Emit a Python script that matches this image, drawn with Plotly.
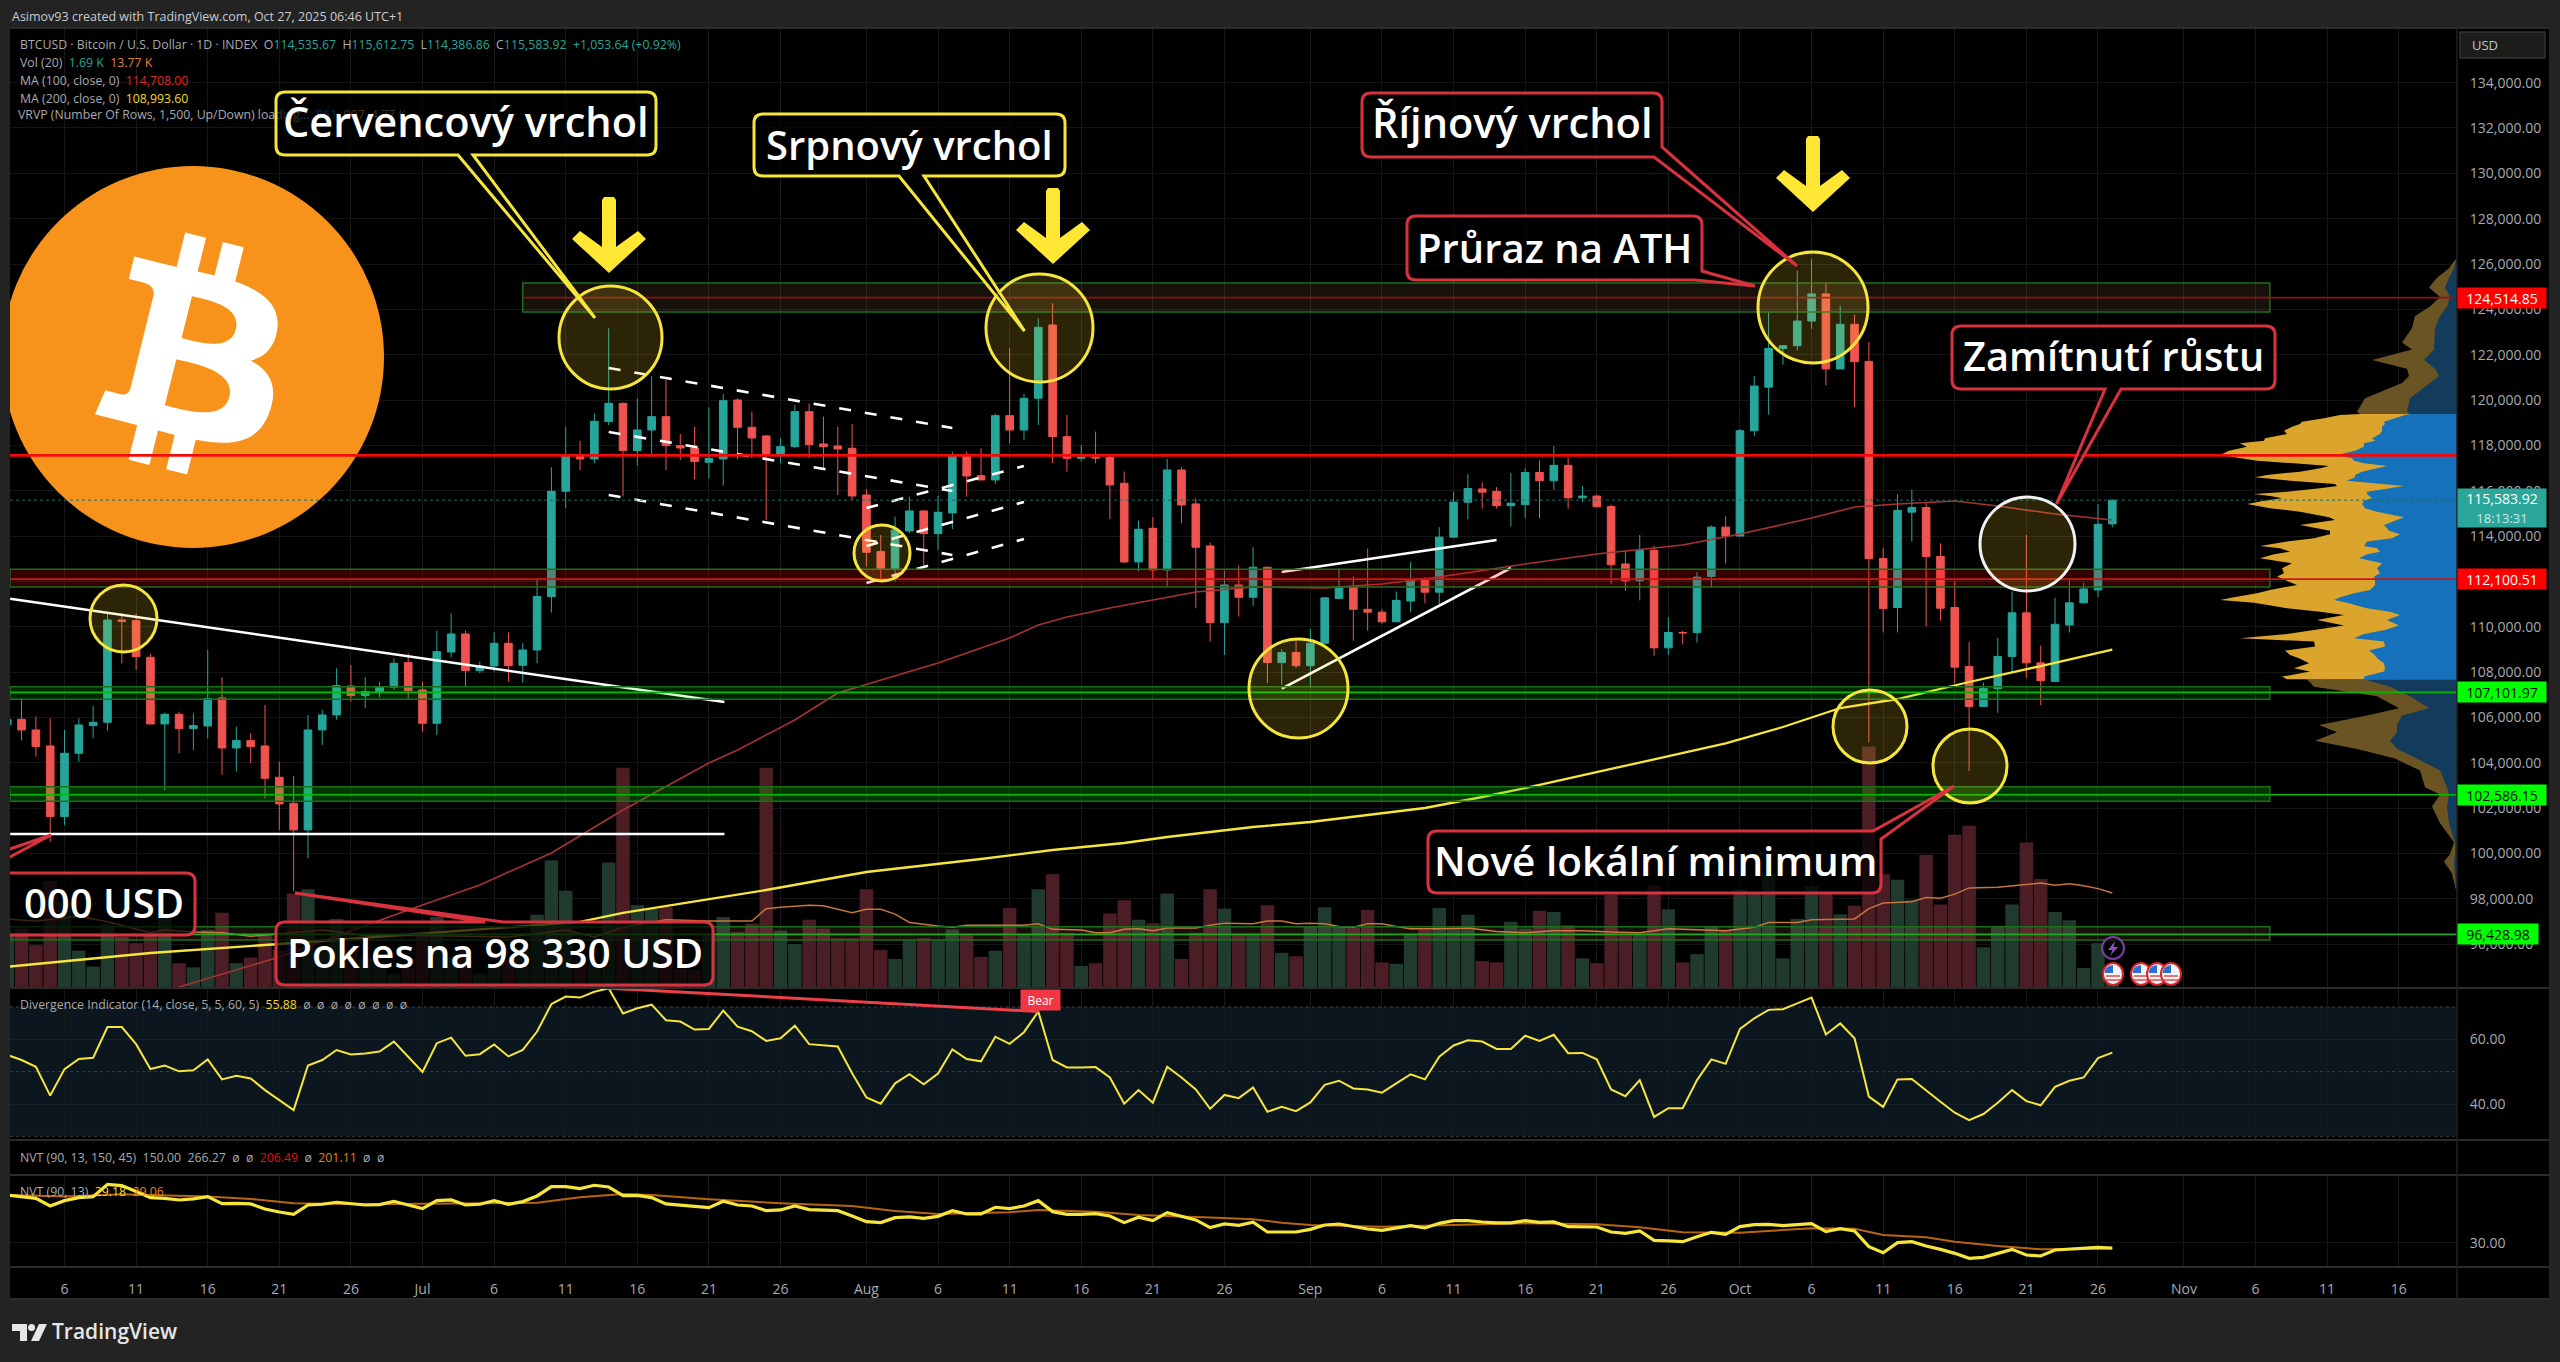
import re
import pandas as pd
import plotly.graph_objects as go

# ---------- daily candles, Jun 2 - Oct 27 2025 ----------
START = "2025-06-02"
opens = [105667,105917,105447,104741,101625,104418,105638,105785,110298,110269,108652,105712,106138,105506,105623,106858,104653,104976,104741,103359,102213,101037,105447,106109,107387,106961,107094,107329,108417,107211,
         105741,108887,109681,108064,108269,109269,108299,108975,111329,115974,117518,117400,119047,119855,117768,118679,119267,117988,117885,117254,117400,120002,118797,118415,117621,117944,119488,118062,117973,117871,
         115813,113313,112579,114225,115107,114107,115019,117533,116665,116474,119311,118679,120076,123310,118385,117430,117474,117474,116327,112858,114343,112505,116915,115416,113564,110182,111844,111300,112623,108418,108860,
         108280,109273,111242,111778,110769,110644,110218,111131,112060,111524,113952,115495,116078,115968,115338,115385,116803,116441,117118,115685,115763,115306,112770,112029,113368,109068,109745,109745,112218,114393,
         113999,118646,120568,122270,122396,123483,124680,121371,123341,121703,113006,110848,115054,115259,113100,110848,108248,106484,107272,108689,110612,108406,107587,110076,111053,111620,114535.67]
highs = [106300,106843,106035,105960,105447,105960,106505,110592,110592,110592,108799,106211,106255,106182,108975,107770,105594,105300,106550,104050,103418,106109,106329,108167,108313,107770,107578,108608,108828,107578,
         109828,110592,109828,108461,109754,109754,109269,112062,117033,118826,118194,119414,123163,119885,120076,121060,120884,118503,118826,119679,120267,120076,119488,118459,118312,119782,119855,119267,118826,118944,
         116077,114048,114858,115739,115151,115769,117724,117724,117871,119400,122281,120267,123604,124265,119340,118017,118606,117577,116841,114681,114828,117400,117033,115665,113711,112476,112696,113505,112653,109006,109351,
         109903,111300,112581,112218,113447,110769,111557,112849,112187,114393,115968,116724,116362,116157,116787,116992,117338,117969,117465,116204,115842,115385,113368,114046,113573,110423,109825,112423,114471,114865,
         118725,121056,123877,122396,125704,126208,125137,124160,123766,122553,113479,115842,116047,115495,113683,112029,109320,107539,109510,111557,114046,109162,111273,112108,111950,115416,115612.75]
lows = [105300,104976,104271,100523,101257,104050,105080,105417,108387,108093,105712,102801,104418,104565,105079,103463,103609,103977,102433,101037,98330,99787,104785,105900,106700,106402,106888,107211,106843,105373,
        105226,108651,107358,107946,108020,107578,107534,108387,110623,115224,116915,117210,118900,115739,117092,117503,116915,117356,116504,116548,116224,117386,117430,114710,117209,117871,117430,116989,115813,115592,
        112652,112137,111991,114122,112652,113387,114313,115739,116474,116300,118091,118238,118899,117209,116842,117283,117209,114740,112799,112431,112064,111770,114563,110814,109344,108757,110447,110917,107507,107434,108170,
        107303,109200,111242,109382,109823,110139,110218,110643,111037,111006,113920,114739,115212,115212,114424,114787,114787,116047,115212,115496,115259,111872,111588,111163,108722,108753,109225,109304,111714,112785,
        113999,118410,119355,121560,122191,123136,120647,121371,119702,104900,109745,109745,113762,110013,110265,107492,103636,106484,106200,108012,107744,106547,107587,109745,111006,111320,114386.86]
closes = [105918,105447,104712,101625,104418,105667,105785,110298,110239,108681,105712,106138,105506,105638,106828,104653,104976,104712,103315,102183,101037,105447,106109,107402,106961,107138,107329,108387,107182,105741,
          108902,109681,108064,108269,109269,108284,108975,111329,115974,117533,117400,119061,119855,117768,118679,119267,117988,117885,117283,117430,119973,118797,118327,117621,117944,119488,118032,117944,117841,115768,
          113284,112579,114270,115107,114107,115048,117533,116651,116474,119311,118679,120076,123207,118385,117430,117474,117445,116254,112858,114299,112505,116915,115371,113505,110182,111844,111300,112623,108418,108860,108280,
          109273,111273,111778,110769,110644,110218,111163,112060,111524,113952,115495,116094,115936,115338,115448,116803,116441,117118,115685,115763,115291,112738,112029,113368,109068,109745,109730,112187,114393,113999,
          118646,120615,122270,122396,123483,124680,121371,123341,121687,113006,110800,115133,115259,113100,110816,108217,106484,107272,108689,110612,108406,107619,110107,111053,111667,114519,115583.92]

# traded volume, thousands
volume = [7.9,8.6,6.2,15.5,12.5,5.4,3.1,9.3,7.4,6.5,7.9,10.3,3.6,3.0,8.4,10.9,3.6,4.4,7.9,5.5,13.7,14.3,5.9,10.0,5.5,4.3,3.3,2.1,3.0,7.9,
          10.3,4.5,5.5,2.1,3.3,4.0,5.9,10.6,18.5,14.1,4.0,3.5,18.2,31.9,12.0,11.5,11.7,2.8,2.6,7.9,10.3,8.1,9.3,31.9,8.3,6.4,9.9,8.6,7.2,7.2,
          14.3,5.5,4.2,7.0,7.2,7.0,8.5,7.8,4.5,5.4,11.6,7.8,14.3,16.5,8.0,3.2,3.6,10.8,12.7,9.9,9.4,13.7,4.2,8.0,14.3,11.5,7.8,7.8,12.0,5.1,4.6,
          8.9,11.7,8.9,8.7,11.3,3.7,3.5,7.8,8.4,11.6,8.6,10.6,3.9,3.7,9.6,8.6,11.2,11.0,9.1,4.3,3.6,13.5,7.9,7.9,14.9,11.4,3.7,4.9,8.9,8.4,
          14.3,13.7,16.6,4.3,10.0,14.7,13.7,10.7,11.9,35.0,16.5,15.7,12.8,19.3,12.1,22.2,23.5,5.9,8.9,12.1,21.1,15.8,11.0,9.8,2.9,6.5,1.69]

vol_ma_days = ["06-02","06-04","06-07","06-09","06-12","06-13","06-15","06-17","06-19","06-21","06-24","06-27","07-01","07-07","07-11","07-13","07-15","07-18","07-21","07-24","07-25","07-26","07-28","07-29","07-31","08-01","08-02","08-03","08-04","08-06","08-07","08-08","08-09","08-10","08-12","08-13","08-14","08-16","08-17","08-18","08-19","08-20","08-21","08-22","08-24","08-25","08-26","08-28","08-29","08-30","08-31","09-01","09-02","09-03","09-04","09-05","09-06","09-07","09-08","09-10","09-12","09-14","09-16","09-18","09-20","09-22","09-24","09-26","09-30","10-02","10-03","10-05","10-06","10-09","10-10","10-11","10-13","10-14","10-15","10-16","10-17","10-19","10-20","10-21","10-22","10-23","10-24","10-25","10-26","10-27"]
vol_ma = [10.0,9.7,10.4,9.6,8.0,8.4,8.1,8.0,7.5,7.9,8.4,7.6,7.6,7.4,8.4,7.4,8.8,9.9,9.7,9.7,11.5,11.7,12.0,11.9,10.9,11.4,11.4,10.7,9.5,9.0,8.8,9.1,9.1,9.0,9.1,9.3,8.5,8.4,8.0,8.0,8.5,8.6,8.3,8.7,8.7,9.1,9.4,9.3,9.7,9.7,9.3,9.4,9.3,8.9,8.8,9.3,9.3,8.9,8.6,8.6,8.7,8.2,8.0,8.3,8.3,8.1,8.0,8.6,8.3,8.8,9.5,9.5,9.9,10.0,11.5,12.3,12.5,13.1,13.0,13.6,14.5,14.6,14.8,15.1,15.2,14.9,15.1,14.8,14.4,13.77]

ma100_days = ["06-14","06-21","06-30","07-05","07-10","07-15","07-21","07-23","07-27","07-30","08-06","08-11","08-13","08-15","08-18","08-21","08-24","08-28","09-02","09-06","09-10","09-16","09-21","09-27","10-01","10-06","10-09","10-12","10-16","10-19","10-23","10-27"]
ma100 = [94108,95432,97505,98608,100020,101916,103989,104562,105885,107077,108400,109503,110077,110430,110826,111179,111532,111753,111708,111885,112194,112767,113208,113605,114090,114796,115281,115414,115546,115325,114972,114708]

ma200_days = ["06-02","06-12","06-21","07-12","07-15","07-25","08-01","08-06","08-09","08-14","08-19","08-22","08-28","09-01","09-06","09-09","09-13","09-17","09-22","09-30","10-04","10-08","10-12","10-17","10-22","10-27"]
ma200 = [95000,95608,96005,96976,97373,98387,99181,99534,99754,100151,100460,100725,101166,101386,101783,102004,102489,103019,103725,104853,105577,106415,106812,107562,108267,108993.6]

# oscillator panes
divergence = [55.2,53.6,51.5,42.6,50.8,53.9,54.3,63.8,63.8,58.5,50.8,51.9,50.1,50.4,53.8,47.6,48.7,47.9,44.3,41.2,38.1,51.9,53.6,56.7,55.3,55.6,56.2,59.3,54.6,
              49.9,58.8,60.5,54.9,55.4,58.4,54.7,56.7,62.4,70.9,73.2,72.9,74.7,75.8,68.0,69.6,70.7,65.9,65.5,63.0,63.2,68.9,63.9,62.5,59.5,60.3,64.2,58.5,58.1,57.8,49.5,
              42.0,40.1,46.4,49.2,46.1,49.4,56.9,53.9,53.2,60.8,58.6,62.2,68.6,53.6,51.3,51.3,51.4,48.2,40.1,44.3,40.4,51.5,48.2,44.5,38.5,42.8,41.8,45.1,37.6,39.1,37.8,
              40.5,45.9,47.2,44.8,44.5,43.5,46.4,49.2,47.6,54.6,58.1,59.7,59.3,57.0,57.0,61.1,59.5,61.4,55.7,55.8,53.8,44.5,42.4,47.4,36.0,38.7,38.7,47.4,53.8,52.4,
              63.2,66.5,69.1,69.3,71.1,72.9,61.5,64.9,60.3,42.3,39.1,47.6,47.7,44.1,40.7,37.3,35.0,36.9,40.4,44.3,40.9,39.6,45.3,47.2,48.2,54.2,55.88]

nvt = [37.33,37.08,36.82,35.64,36.46,36.92,37.08,38.97,38.77,37.85,36.92,36.82,36.56,36.72,37.08,36.00,36.05,35.95,35.18,34.72,34.36,35.79,35.90,36.21,35.95,35.79,35.85,36.36,35.79,
       35.23,36.46,36.56,35.79,35.90,36.46,35.90,36.31,37.18,38.62,38.62,38.31,38.82,38.56,37.23,37.28,36.92,35.95,35.79,35.64,35.38,36.36,35.79,35.64,34.92,35.03,35.64,35.08,35.03,34.92,34.10,
       33.23,33.08,33.85,33.95,33.74,34.05,34.92,34.41,34.41,35.44,35.23,35.64,36.46,34.77,34.36,34.36,34.46,34.10,33.08,33.90,33.39,34.62,34.10,33.49,32.31,32.87,32.67,33.13,31.64,31.69,31.64,
       32.05,32.72,32.87,32.46,32.10,31.90,32.26,32.62,32.26,32.97,33.39,33.39,33.18,33.03,33.03,33.39,33.13,33.18,32.46,32.41,32.41,31.64,31.44,31.79,30.36,30.26,30.15,30.92,31.59,31.28,
       32.46,32.77,32.82,32.62,32.82,32.92,31.69,32.15,31.79,29.38,28.46,30.00,30.15,29.49,28.97,28.36,27.59,27.74,28.36,28.97,28.10,27.95,28.87,29.03,29.18,29.28,29.18]
nvt_sig_days = ["06-02","06-06","06-10","06-16","06-19","06-22","06-27","07-01","07-06","07-09","07-12","07-15","07-17","07-21","07-26","07-31","08-03","08-06","08-11","08-13","08-17","08-20","08-25","08-28","08-30","09-01","09-06","09-11","09-16","09-21","09-24","09-27","10-01","10-06","10-09","10-11","10-14","10-16","10-19","10-22","10-27"]
nvt_sig = [37.33,37.08,37.44,37.08,36.72,36.05,35.90,35.95,36.05,36.15,36.98,37.49,37.33,36.67,36.05,35.64,34.87,34.41,34.67,35.03,34.77,34.26,33.85,33.59,33.08,32.72,32.46,32.72,32.97,32.82,32.36,31.59,31.54,32.21,32.15,31.18,30.82,30.15,29.49,28.97,29.06]

# volume-by-price profile: price rows, total and up volume
va_price = [119384,119340,119192,119046,118943,118825,118649,118502,118310,118208,118090,117943,117767,117575,117429,117326,117208,117090,116988,116841,116694,116591,116444,116297,116208,116105,115959,115856,115767,115664,115562,115415,115224,115077,114827,114709,114489,114239,114077,113900,113754,113562,113460,113312,113195,113019,112798,112578,112357,112210,112063,111843,111622,111475,111299,111181,111063,110814,110666,110519,110299,110049,109858,109682,109491,109344,109123,108947,108756,108609,108388,108167,108020,107800,107682]
va_total = [97,117,133,155,157,165,173,170,192,193,217,210,228,237,217,200,163,128,137,157,190,202,167,122,120,137,170,203,187,175,193,210,187,157,128,122,157,127,127,143,170,197,177,167,183,197,165,175,173,180,172,160,187,200,223,237,203,170,137,113,140,113,143,170,217,143,142,172,167,158,148,163,147,175,170]
va_up = [47,52,62,73,72,75,75,77,85,82,93,93,102,120,105,103,93,70,80,95,102,102,110,73,53,67,90,90,88,85,93,95,92,80,53,60,73,68,57,65,90,93,80,77,90,98,75,80,77,83,82,82,87,103,117,123,110,90,67,57,70,58,72,93,103,73,72,88,82,80,73,72,73,93,93]
upper_price = [126192,125812,125390,124968,124546,124124,123702,123174,122542,122225,121761,121381,121065,120748,120073,119482,119384]
upper_total = [2,8,20,28,17,27,42,45,55,45,85,50,48,55,92,100,97]
upper_up = [1,3,8,12,7,10,17,22,23,23,33,22,18,27,47,50,47]
lower_price = [107682,107350,106928,106400,106084,105661,105345,104965,104606,104185,103657,102919,102602,102075,101336,100492,99965,99648,99120,98382]
lower_total = [150,143,80,58,90,138,120,142,100,62,37,32,17,25,17,3,7,13,5,1]
lower_up = [93,67,47,28,55,60,60,67,60,40,17,10,8,10,8,2,2,3,2,1]

# key levels and bands
LAST_PRICE = 115583.92
LEVELS = [124514.85, 112100.51, 107101.97, 102586.15, 96428.98]
RESISTANCE = 117557
BANDS = [(123883, 125162), (111753, 112533), (106797, 107353), (102298, 102945), (96180, 96766)]

# trend lines drawn on the price pane: (date, price) end points
SOLID_LINES = [(("2025-06-02 05:00", 111236), ("2025-07-22 02:00", 106680)),
               (("2025-06-02 05:00", 100857), ("2025-07-22 02:00", 100857)),
               (("2025-08-30", 112414), ("2025-09-14", 113826)),
               (("2025-08-30", 107271), ("2025-09-15", 112590))]
DASHED_LINES = [(("2025-07-14", 121413), ("2025-08-07", 118766)),
                (("2025-07-14", 118590), ("2025-08-07", 115987)),
                (("2025-07-14", 115811), ("2025-08-07", 113164)),
                (("2025-08-01", 115237), ("2025-08-12", 117090)),
                (("2025-08-01", 113561), ("2025-08-12", 115502)),
                (("2025-08-01", 111929), ("2025-08-12", 113870))]

day_ticks = ["06-06","06-11","06-16","06-21","06-26","07-01","07-06","07-11","07-16","07-21","07-26","08-01","08-06","08-11","08-16","08-21","08-26","09-01","09-06","09-11","09-16","09-21","09-26","10-01","10-06","10-11","10-16","10-21","10-26","11-01","11-06","11-11","11-16"]
day_labels = ["6","11","16","21","26","Jul","6","11","16","21","26","Aug","6","11","16","21","26","Sep","6","11","16","21","26","Oct","6","11","16","21","26","Nov","6","11","16"]

# ---------- page geometry ----------
W, H = 2560, 1362
L_EDGE, R_EDGE, AX_EDGE = 10, 2457, 2549
TOP, MAIN_BOT, DIV_BOT, NVT_HEAD_BOT, NVT_BOT, AXIS_BOT = 28, 988, 1140, 1175, 1267, 1299
X_RANGE = ["2025-06-02 04:39", "2025-11-20 01:41"]
UI_FONT = "Open Sans"
GREY = "#a7aab1"
TEAL, RED = "#26a69a", "#ef5350"
YEL, CRED = "#f6e63c", "#d8323f"
LEGEND_SIZE = 12.3


def ydom(top, bot):
    return [(H - bot) / H, (H - top) / H]


def ymd(day):
    return "2025-" + day


dates = pd.date_range(START, periods=len(closes))
up = [c >= o for o, c in zip(opens, closes)]

fig = go.Figure()

# volume sits underneath the candles
fig.add_trace(go.Bar(x=dates, y=volume, xaxis="x", yaxis="y",
                     marker=dict(color=["#203a2e" if u else "#4b1e25" for u in up], line=dict(width=0))))
fig.add_trace(go.Scatter(x=[ymd(d) for d in vol_ma_days], y=vol_ma, xaxis="x", yaxis="y", mode="lines",
                         line=dict(color="#c9743a", width=1.5)))

fig.add_trace(go.Candlestick(x=dates, open=opens, high=highs, low=lows, close=closes, xaxis="x", yaxis="y2",
                             increasing=dict(line=dict(color=TEAL, width=1), fillcolor=TEAL),
                             decreasing=dict(line=dict(color=RED, width=1), fillcolor=RED),
                             whiskerwidth=0, hoverinfo="skip"))
fig.add_trace(go.Scatter(x=[ymd(d) for d in ma100_days], y=ma100, xaxis="x", yaxis="y2", mode="lines",
                         line=dict(color="#a83234", width=1.6)))
fig.add_trace(go.Scatter(x=[ymd(d) for d in ma200_days], y=ma200, xaxis="x", yaxis="y2", mode="lines",
                         line=dict(color=YEL, width=2.3)))

for (a, b) in SOLID_LINES:
    fig.add_trace(go.Scatter(x=[a[0], b[0]], y=[a[1], b[1]], xaxis="x", yaxis="y2", mode="lines",
                             line=dict(color="#ffffff", width=2.6)))
for (a, b) in DASHED_LINES:
    fig.add_trace(go.Scatter(x=[a[0], b[0]], y=[a[1], b[1]], xaxis="x", yaxis="y2", mode="lines",
                             line=dict(color="#ffffff", width=2.6, dash="12px,14px")))


def profile(price, total, upv, yellow, blue):
    for vals, col in ((total, yellow), (upv, blue)):
        fig.add_trace(go.Scatter(x=[0] + vals + [0], y=[price[0]] + price + [price[-1]], xaxis="x4", yaxis="y2",
                                 mode="lines", fill="toself", fillcolor=col, line=dict(width=0)))


profile(upper_price, upper_total, upper_up, "#6b5423", "#123b5c")
profile(lower_price, lower_total, lower_up, "#6b5423", "#123b5c")
profile(va_price, va_total, va_up, "#dba42c", "#1571ba")

# oscillators
fig.add_trace(go.Scatter(x=dates, y=divergence, xaxis="x2", yaxis="y3", mode="lines",
                         line=dict(color=YEL, width=2)))
fig.add_trace(go.Scatter(x=["2025-07-14", "2025-08-13"], y=[divergence[42], divergence[72]], xaxis="x2", yaxis="y3",
                         mode="lines", line=dict(color="#ee3f4a", width=3)))
fig.add_trace(go.Scatter(x=[ymd(d) for d in nvt_sig_days], y=nvt_sig, xaxis="x3", yaxis="y4", mode="lines",
                         line=dict(color="#b8650f", width=2)))
fig.add_trace(go.Scatter(x=dates, y=nvt, xaxis="x3", yaxis="y4", mode="lines",
                         line=dict(color=YEL, width=3.2)))

# legend row that runs underneath the first callout box
vrvp = ("VRVP (Number Of Rows, 1,500, Up/Down) loading...  <span style='color:#2196f3'>861</span>  "
        "<span style='color:#e0b030'>907</span>  4.77 K")
fig.add_trace(go.Scatter(x=[18], y=[116], xaxis="x9", yaxis="y9", mode="text", text=[vrvp], textposition="middle right",
                         textfont=dict(family=UI_FONT, size=LEGEND_SIZE, color=GREY)))

shapes = []
notes = []


def px_shape(**kw):
    kw.setdefault("xref", "x9")
    kw.setdefault("yref", "y9")
    kw.setdefault("layer", "above")
    shapes.append(kw)


def text(x, y, s, size=LEGEND_SIZE, color=GREY, anchor="left", weight=None, family=UI_FONT):
    notes.append(dict(xref="x9", yref="y9", x=x, y=y, text=s, showarrow=False, xanchor=anchor, yanchor="middle",
                      font=dict(family=family, size=size, color=color, weight=weight)))


def round_poly(pts):
    """Closed path through (x, y, r) vertices, rounding those with r > 0."""
    n = len(pts)
    out = []
    for i, (x, y, r) in enumerate(pts):
        if r == 0:
            out.append(("L" if out else "M") + f"{x},{y}")
            continue
        px, py, _ = pts[i - 1]
        nx, ny, _ = pts[(i + 1) % n]
        d1 = max(((px - x) ** 2 + (py - y) ** 2) ** .5, 1e-6)
        d2 = max(((nx - x) ** 2 + (ny - y) ** 2) ** .5, 1e-6)
        ax, ay = x + (px - x) * r / d1, y + (py - y) * r / d1
        bx, by = x + (nx - x) * r / d2, y + (ny - y) * r / d2
        out.append(("L" if out else "M") + f"{ax},{ay}")
        out.append(f"Q{x},{y} {bx},{by}")
    return "".join(out) + "Z"


def svg_to_abs(d, ox, oy, s):
    """Rewrite a relative SVG path with absolute commands, scaled and offset."""
    toks = re.findall(r"[a-zA-Z]|-?\d*\.?\d+", d)
    i, cx, cy, sx, sy, cmd = 0, 0.0, 0.0, 0.0, 0.0, None
    lastc = None
    out = []
    P = lambda x, y: f"{ox + x * s:.2f},{oy + y * s:.2f}"

    def num():
        nonlocal i
        v = float(toks[i])
        i += 1
        return v

    while i < len(toks):
        if toks[i].isalpha():
            cmd = toks[i]
            i += 1
            if cmd in "zZ":
                out.append("Z")
                cx, cy = sx, sy
                lastc = None
                continue
        rel = cmd.islower()
        C = cmd.upper()
        bx, by = (cx, cy) if rel else (0.0, 0.0)
        if C == "M":
            cx, cy = bx + num(), by + num()
            sx, sy = cx, cy
            out.append("M" + P(cx, cy))
            cmd = "l" if rel else "L"
            lastc = None
        elif C == "L":
            cx, cy = bx + num(), by + num()
            out.append("L" + P(cx, cy))
            lastc = None
        elif C == "H":
            cx = bx + num()
            out.append("L" + P(cx, cy))
            lastc = None
        elif C == "V":
            cy = by + num()
            out.append("L" + P(cx, cy))
            lastc = None
        elif C == "C":
            x1, y1, x2, y2, x, y = bx + num(), by + num(), bx + num(), by + num(), bx + num(), by + num()
            out.append(f"C{P(x1, y1)} {P(x2, y2)} {P(x, y)}")
            lastc = (x2, y2)
            cx, cy = x, y
        elif C == "S":
            x1, y1 = (2 * cx - lastc[0], 2 * cy - lastc[1]) if lastc else (cx, cy)
            x2, y2, x, y = bx + num(), by + num(), bx + num(), by + num()
            out.append(f"C{P(x1, y1)} {P(x2, y2)} {P(x, y)}")
            lastc = (x2, y2)
            cx, cy = x, y
    return "".join(out)


# page and pane backgrounds (below every subplot)
for x0, y0, x1, y1, col in [(L_EDGE, TOP, AX_EDGE, AXIS_BOT, "#000000")]:
    shapes.append(dict(type="rect", xref="paper", yref="paper", layer="below", x0=x0 / W, x1=x1 / W,
                       y0=1 - y1 / H, y1=1 - y0 / H, fillcolor=col, line=dict(width=0)))

# oscillator band and its dotted guides
shapes.append(dict(type="rect", xref="x2", yref="y3", layer="below", x0=X_RANGE[0], x1=X_RANGE[1], y0=30, y1=70,
                   fillcolor="#0c161e", line=dict(width=0)))
for lvl in (70, 50, 30):
    shapes.append(dict(type="line", xref="x2", yref="y3", layer="below", x0=X_RANGE[0], x1=X_RANGE[1], y0=lvl, y1=lvl,
                       line=dict(color="#3a4249", width=1, dash="dot")))

# Bitcoin badge
LOGO_R = 191
LOGO_S = LOGO_R / 32
LOGO_OX, LOGO_OY = 193 - 32 * LOGO_S, 357 - 32 * LOGO_S
px_shape(type="circle", x0=193 - LOGO_R, x1=193 + LOGO_R, y0=357 - LOGO_R, y1=357 + LOGO_R, fillcolor="#f7931a",
         line=dict(width=0))
B_GLYPH = ("M46.11 27.441c.636-4.258-2.606-6.547-7.039-8.074l1.438-5.768-3.512-.875-1.4 5.616c-.922-.23-1.87-.447-2.812-.662"
           "l1.41-5.653-3.509-.875-1.439 5.766c-.764-.174-1.514-.346-2.242-.527l.004-.018-4.842-1.209-.934 3.75s2.605.597 2.55.634"
           "c1.422.355 1.68 1.296 1.636 2.042l-1.638 6.571c.098.025.225.061.365.117l-.37-.092-2.297 9.205c-.174.432-.615 1.08-1.609.834"
           ".035.051-2.552-.637-2.552-.637l-1.743 4.02 4.57 1.139c.85.213 1.683.436 2.502.646l-1.453 5.835 3.507.875 1.44-5.772"
           "c.957.26 1.887.5 2.797.726L27.504 50.8l3.511.875 1.453-5.823c5.987 1.133 10.49.676 12.383-4.738 1.527-4.36-.075-6.875-3.225-8.516"
           " 2.294-.531 4.022-2.04 4.483-5.157zM38.087 38.69c-1.086 4.36-8.426 2.004-10.807 1.412l1.928-7.729c2.38.594 10.011 1.77 8.88 6.317z"
           "m1.085-11.312c-.99 3.966-7.1 1.951-9.083 1.457l1.748-7.01c1.983.494 8.367 1.416 7.335 5.553z")
px_shape(type="path", path=svg_to_abs(B_GLYPH, LOGO_OX, LOGO_OY, LOGO_S), fillcolor="#ffffff", line=dict(width=0))

# support and resistance bands, with their level lines
band_fills = ["rgba(255,190,120,0.09)", "rgba(255,0,0,0.2)", "rgba(0,255,0,0.15)", "rgba(0,220,0,0.25)", "rgba(255,190,120,0.09)"]
band_starts = ["2025-07-08", X_RANGE[0], X_RANGE[0], X_RANGE[0], X_RANGE[0]]
band_end = "2025-11-07"
level_cols = ["#8a1212", "#d01414", "#08b808", "#08b808", "#1ea81e"]
for (lo, hi), fill, start in zip(BANDS, band_fills, band_starts):
    shapes.append(dict(type="rect", xref="x", yref="y2", layer="above", x0=start, x1=band_end, y0=lo, y1=hi,
                       fillcolor=fill, line=dict(color="#1c6e1c", width=1.5)))
for lvl, col, start in zip(LEVELS, level_cols, band_starts):
    shapes.append(dict(type="line", xref="x", yref="y2", layer="above", x0=start, x1=X_RANGE[1], y0=lvl, y1=lvl,
                       line=dict(color=col, width=1.6)))
shapes.append(dict(type="line", xref="x", yref="y2", layer="above", x0=X_RANGE[0], x1=X_RANGE[1], y0=RESISTANCE, y1=RESISTANCE,
                   line=dict(color="#f50a0a", width=2.6)))
shapes.append(dict(type="line", xref="x", yref="y2", layer="above", x0=X_RANGE[0], x1=X_RANGE[1], y0=LAST_PRICE, y1=LAST_PRICE,
                   line=dict(color="#1f6a62", width=1, dash="dot")))

# highlight rings: left, right, top, bottom, outline colour
RINGS = [(559, 662, 286, 389, YEL), (986, 1093, 274, 382, YEL), (854, 910, 525, 581, YEL), (90, 157, 585, 652, YEL),
         (1249, 1348, 639, 738, YEL), (1758, 1868, 252, 363, YEL), (1833, 1907, 690, 763, YEL), (1933, 2007, 729, 803, YEL),
         (1980, 2075, 497, 591, "#f2f2f2")]
for x0, x1, y0, y1, col in RINGS:
    px_shape(type="circle", x0=x0, x1=x1, y0=y0, y1=y1, fillcolor="rgba(255,215,40,0.17)", line=dict(color=col, width=3))


def arrow(cx, top):
    half, shaft = 37, 7
    pts = [(cx - shaft + 2, top, 0), (cx + shaft - 2, top, 0), (cx + shaft, top + 3, 0), (cx + shaft, top + 50, 0),
           (cx + half - 8, top + 34, 0), (cx + half, top + 42, 0), (cx, top + 76, 0), (cx - half, top + 42, 0),
           (cx - half + 8, top + 34, 0), (cx - shaft, top + 50, 0), (cx - shaft, top + 3, 0)]
    px_shape(type="path", path=round_poly(pts), fillcolor="#ffe733", line=dict(width=0))


for cx, top in [(609, 197), (1053, 188), (1813, 136)]:
    arrow(cx, top)

# callouts: outline vertices, colour, label, label centre, label size
R8 = 9
CALLOUTS = [
    ([(276, 92, R8), (656, 92, R8), (656, 155, R8), (473, 155, 0), (595, 318, 0), (458, 155, 0), (276, 155, R8)], YEL,
     "Červencový vrchol", 466, 121, 41.5),
    ([(754, 114, R8), (1065, 114, R8), (1065, 176, R8), (924, 176, 0), (1024.5, 331, 0), (899, 176, 0), (754, 176, R8)], YEL,
     "Srpnový vrchol", 909, 144, 40),
    ([(1362, 93, R8), (1662, 93, R8), (1662, 147, 0), (1797, 266, 0), (1654, 157, 0), (1362, 157, R8)], CRED,
     "Říjnový vrchol", 1512, 122, 41.5),
    ([(1407, 216, R8), (1702, 216, R8), (1702, 271, 0), (1755, 286, 0), (1695, 280, 0), (1407, 280, R8)], CRED,
     "Průraz na ATH", 1554, 247, 40),
    ([(1952, 326, R8), (2275, 326, R8), (2275, 389, R8), (2121, 389, 0), (2056.5, 504, 0), (2105, 389, 0), (1952, 389, R8)], CRED,
     "Zamítnutí růstu", 2113, 355, 39.8),
    ([(1428, 831, R8), (1873, 831, 0), (1954, 786, 0), (1881, 839, 0), (1881, 893, R8), (1428, 893, R8)], CRED,
     "Nové lokální minimum", 1655, 860, 40.5),
    ([(-200, 873, R8), (-60, 873, 0), (51, 835, 0), (-20, 873, 0), (195, 873, R8), (195, 935, R8), (-200, 935, R8)], CRED,
     "000 USD", 104, 902, 40),
    ([(276, 922, R8), (485, 922, 0), (295, 893, 0), (503, 922, 0), (713, 922, R8), (713, 985, R8), (276, 985, R8)], CRED,
     "Pokles na 98 330 USD", 495, 952, 40.5),
]
for pts, col, label, tx, ty, fs in CALLOUTS:
    px_shape(type="path", path=round_poly(pts), fillcolor="rgba(0,0,0,0.7)", line=dict(color=col, width=3))
    text(tx, ty, label, size=fs, color="#ffffff", anchor="center", weight=600)

# economic-event badges at the end of the volume pane
px_shape(type="circle", x0=2102, x1=2124, y0=937, y1=959, fillcolor="rgba(0,0,0,0.6)", line=dict(color="#7a3fa0", width=2))
px_shape(type="path", path="M2115,941L2108,950L2112.5,950L2110,956L2118,947L2113.5,947Z", fillcolor="#8e4fc0", line=dict(width=0))
for cx in (2113, 2141, 2157, 2171):
    px_shape(type="circle", x0=cx - 10, x1=cx + 10, y0=963, y1=985, fillcolor="#f4f4f4", line=dict(color="#d8232a", width=2))
    px_shape(type="path", path=f"M{cx-8},{971}Q{cx-7},{966} {cx},{965}L{cx},{973}L{cx-8},{973}Z", fillcolor="#2a6fd0", line=dict(width=0))
    for yy in (976, 980):
        px_shape(type="line", x0=cx - 7, x1=cx + 7, y0=yy, y1=yy, line=dict(color="#e24a4a", width=1.5))

# frame strips that hide anything running past the panes
px_shape(type="rect", x0=0, x1=L_EDGE, y0=0, y1=H, fillcolor="#232323", line=dict(width=0))
px_shape(type="rect", x0=AX_EDGE, x1=W, y0=0, y1=H, fillcolor="#232323", line=dict(width=0))

# pane separators
for yy in (TOP, MAIN_BOT, DIV_BOT, NVT_HEAD_BOT, NVT_BOT, AXIS_BOT):
    px_shape(type="line", x0=L_EDGE, x1=AX_EDGE, y0=yy, y1=yy, line=dict(color="#2b2b2b", width=2))
px_shape(type="line", x0=R_EDGE, x1=R_EDGE, y0=TOP, y1=AXIS_BOT, line=dict(color="#222222", width=1.5))

# currency button
px_shape(type="rect", x0=2460, x1=2545, y0=32, y1=58, fillcolor="#1c1c1a", line=dict(color="#333333", width=1.5))
text(2470, 45, "USD", size=13, color="#c4c6cb")

# header and legends
text(10, 16, "Asimov93 created with TradingView.com, Oct 27, 2025 06:46 UTC+1", size=12.5, color="#c9cbd0")
TV = "#26a69a"
v = lambda s, c=TV: f"<span style='color:{c}'>{s}</span>"
text(18, 44, "BTCUSD · Bitcoin / U.S. Dollar · 1D · INDEX  O" + v("114,535.67") + "  H" + v("115,612.75") + "  L" + v("114,386.86") +
     "  C" + v("115,583.92") + "  " + v("+1,053.64 (+0.92%)"))
text(18, 62, "Vol (20)  " + v("1.69 K") + "  " + v("13.77 K", "#e0803c"))
text(18, 80, "MA (100, close, 0)  " + v("114,708.00", "#e02828"))
text(18, 98, "MA (200, close, 0)  " + v("108,993.60", "#f2dc20"))
text(18, 1004, "Divergence Indicator (14, close, 5, 5, 60, 5)  " + v("55.88", "#f2dc20") + "  ø  ø  ø  ø  ø  ø  ø  ø")
text(18, 1157, "NVT (90, 13, 150, 45)  150.00  266.27  ø  ø  " + v("206.49", "#e01010") + "  ø  " + v("201.11", "#e8801a") + "  ø  ø")
text(18, 1191, "NVT (90, 13)  " + v("29.18", "#f2dc20") + "  " + v("29.06", "#e8801a"))

# price tags stuck to the axis
TAGS = [(LEVELS[0], "#ff0000", "#ffffff", 88), (LEVELS[1], "#ff0000", "#ffffff", 88), (LEVELS[2], "#00ff00", "#0a0a0a", 88),
        (LEVELS[3], "#00ff00", "#0a0a0a", 88), (LEVELS[4], "#00ff00", "#0a0a0a", 80)]
for val, bg, fg, wide in TAGS:
    notes.append(dict(xref="paper", x=R_EDGE / W, yref="y2", y=val, text=f"{val:,.2f}", showarrow=False, xanchor="left",
                      yanchor="middle", width=wide, height=20, align="center", valign="middle", bgcolor=bg, borderpad=0,
                      font=dict(family=UI_FONT, size=14, color=fg)))
notes.append(dict(xref="paper", x=R_EDGE / W, yref="y2", y=LAST_PRICE - 330, showarrow=False, xanchor="left", yanchor="middle",
                  text=f"{LAST_PRICE:,.2f}<br><span style='font-size:13px;color:#cfe9e5'>18:13:31</span>", width=88, height=38,
                  align="center", valign="middle", bgcolor="#2aa69a", borderpad=0, font=dict(family=UI_FONT, size=14, color="#ffffff")))

notes.append(dict(xref="x9", yref="y9", x=1040, y=1000, text="Bear", showarrow=False, width=39, height=20, bgcolor="#f23645",
                  font=dict(family=UI_FONT, size=12, color="#ffffff"), align="center", valign="middle", borderpad=0))

# footer wordmark
px_shape(type="path", path="M12,1324L27,1324L27,1341L20,1341L20,1331L12,1331Z", fillcolor="#e6e6e6", line=dict(width=0))
px_shape(type="circle", x0=28, x1=35, y0=1324, y1=1331, fillcolor="#e6e6e6", line=dict(width=0))
px_shape(type="path", path="M39,1324L47,1324L39,1341L31,1341Z", fillcolor="#e6e6e6", line=dict(width=0))
text(50, 1331, "TradingView", size=21, color="#e6e6e6", weight=600)

# ---------- axes ----------
tick_dates = [ymd(d) for d in day_ticks]
xbase = dict(type="date", range=X_RANGE, domain=[L_EDGE / W, R_EDGE / W], tickmode="array", tickvals=tick_dates,
             showgrid=True, gridcolor="#181818", gridwidth=1, zeroline=False, showline=False, showticklabels=False, ticks="")
ybase = dict(side="right", zeroline=False, showline=False, showgrid=True, gridcolor="#151515", gridwidth=1, ticks="outside",
             ticklen=9, tickcolor="rgba(0,0,0,0)", tickfont=dict(family=UI_FONT, size=14, color=GREY))

fig.update_layout(
    width=W, height=H, autosize=False, margin=dict(l=0, r=0, t=0, b=0, pad=0),
    paper_bgcolor="#232323", plot_bgcolor="rgba(0,0,0,0)", showlegend=False, hovermode=False,
    bargap=0.06, boxgap=0.24,
    xaxis=dict(xbase, anchor="y", rangeslider=dict(visible=False)),
    xaxis2=dict(xbase, anchor="y3"),
    xaxis3=dict(xbase, anchor="y4", showticklabels=True, ticktext=day_labels, ticks="outside", ticklen=9,
                tickcolor="rgba(0,0,0,0)", tickfont=dict(family=UI_FONT, size=14, color=GREY)),
    xaxis4=dict(overlaying="x", anchor="y2", range=[R_EDGE - L_EDGE, 0], visible=False, domain=xbase["domain"]),
    xaxis9=dict(anchor="y9", domain=[0, 1], range=[0, W], visible=False),
    yaxis=dict(domain=ydom(TOP, MAIN_BOT), range=[0, 139.1], anchor="x", visible=False),
    yaxis2=dict(ybase, domain=ydom(TOP, MAIN_BOT), range=[94064, 136410], overlaying="y", anchor="x", tickmode="array",
                tickvals=list(range(96000, 136000, 2000)), tickformat=",.2f"),
    yaxis3=dict(ybase, domain=ydom(MAIN_BOT, DIV_BOT), range=[28.87, 75.86], anchor="x2", tickmode="array", tickvals=[40, 60],
                tickformat=".2f", gridcolor="#182028"),
    yaxis4=dict(ybase, domain=ydom(NVT_HEAD_BOT, NVT_BOT), range=[26.26, 40.4], anchor="x3", tickmode="array", tickvals=[30],
                tickformat=".2f"),
    yaxis9=dict(anchor="x9", domain=[0, 1], range=[H, 0], visible=False),
    shapes=shapes,
    annotations=notes,
)

fig.write_html("out.html")
